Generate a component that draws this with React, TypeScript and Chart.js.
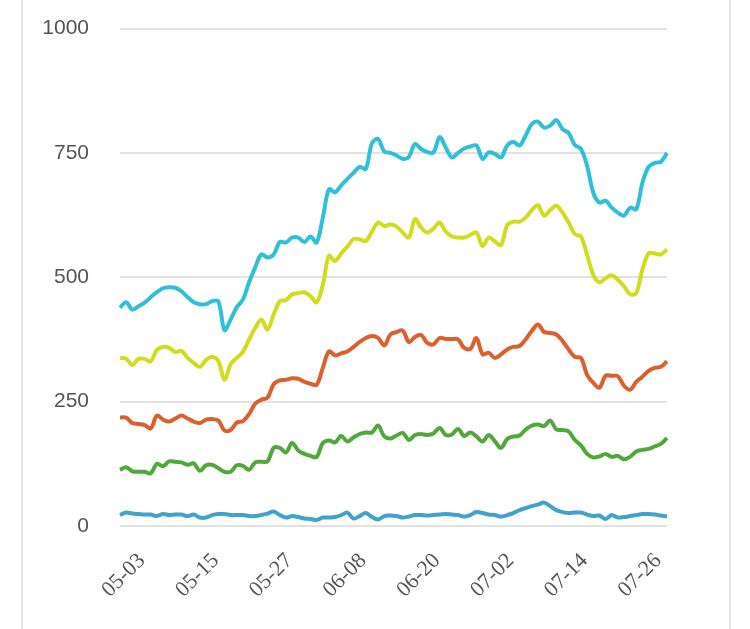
import React, { useEffect, useRef } from "react";
import { Chart, registerables } from "chart.js";

Chart.register(...registerables);

const startMonth = 5;
const startDay = 3;
const dayCount = 90;

const yTicks = [0, 250, 500, 750, 1000];

const seriesCyan = [
  439, 450, 435, 442, 449, 460, 470, 478, 480, 479,
  472, 460, 450, 446, 446, 452, 452, 394, 415, 440,
  455, 490, 520, 546, 540, 546, 571, 570, 580, 580,
  571, 582, 570, 620, 677, 671, 685, 698, 710, 722,
  718, 770, 778, 753, 750, 745, 738, 742, 768, 758,
  752, 751, 782, 761, 741, 750, 759, 763, 765, 738,
  751, 748, 741, 765, 772, 765, 785, 808, 813, 801,
  805, 816, 798, 790, 766, 758, 724, 670, 650, 654,
  640, 630, 624, 640, 637, 690, 722, 730, 732, 750,
];

const seriesYellow = [
  338, 336, 324, 336, 336, 331, 354, 360, 358, 350,
  352, 338, 328, 320, 334, 340, 332, 294, 325, 338,
  350, 375, 398, 415, 395, 425, 452, 454, 466, 468,
  470, 462, 450, 485, 543, 533, 548, 562, 577, 576,
  573, 592, 610, 603, 606, 602, 590, 580, 617, 600,
  590, 598, 610, 592, 582, 580, 580, 585, 590, 563,
  580, 572, 565, 605, 612, 612, 620, 635, 645, 624,
  635, 644, 630, 610, 587, 582, 545, 505, 490, 498,
  504, 495, 482, 466, 468, 516, 548, 548, 546, 556,
];

const seriesOrange = [
  218, 218, 207, 205, 203, 196, 222, 214, 210, 216,
  222, 216, 210, 207, 214, 215, 212, 192, 193, 208,
  211, 225, 246, 254, 258, 285, 293, 294, 297, 296,
  290, 286, 284, 318, 351, 343, 347, 351, 360, 370,
  378, 382, 378, 363, 385, 390, 393, 370, 380, 384,
  368, 365, 378, 376, 376, 375, 358, 356, 378, 345,
  348, 338, 345, 355, 360, 362, 375, 392, 405, 390,
  388, 385, 372, 355, 340, 338, 304, 288, 278, 302,
  302, 301, 282, 274, 290, 300, 312, 318, 320, 331,
];

const seriesGreen = [
  113, 118, 110, 109, 109, 106, 125, 120, 130, 129,
  128, 123, 126, 111, 122, 123, 116, 109, 109, 122,
  121, 113, 128, 129, 130, 157, 157, 148, 167, 152,
  145, 141, 139, 167, 172, 168, 181, 170, 178, 185,
  188, 188, 202, 180, 176, 182, 187, 173, 183, 185,
  183, 186, 197, 183, 184, 195, 181, 188, 180, 170,
  183, 170, 157, 175, 180, 182, 194, 202, 204, 201,
  212, 194, 193, 190, 173, 162, 145, 138, 140, 145,
  139, 141, 134, 139, 150, 153, 155, 160, 165, 177,
];

const seriesBlue = [
  22, 27, 25, 24, 23, 23, 20, 24, 22, 23,
  23, 20, 23, 17, 17, 22, 24, 24, 22, 22,
  22, 20, 20, 22, 25, 29, 22, 17, 20, 18,
  15, 14, 12, 17, 17, 18, 22, 27, 15, 20,
  26, 18, 13, 20, 21, 20, 17, 19, 22, 22,
  21, 22, 23, 24, 23, 22, 19, 22, 28, 26,
  23, 22, 19, 22, 26, 32, 36, 40, 43, 47,
  40, 32, 28, 26, 27, 27, 23, 20, 21, 14,
  22, 17, 18, 20, 22, 24, 24, 23, 21, 19,
];

function buildLabels(): string[] {
  const out: string[] = [];
  const d = new Date(2021, startMonth - 1, startDay);
  for (let i = 0; i < dayCount; i++) {
    const mm = String(d.getMonth() + 1).padStart(2, "0");
    const dd = String(d.getDate()).padStart(2, "0");
    out.push(`${mm}-${dd}`);
    d.setDate(d.getDate() + 1);
  }
  return out;
}

const categories = buildLabels();

export default function App() {
  const ref = useRef<HTMLCanvasElement | null>(null);

  useEffect(() => {
    if (!ref.current) return;
    const mk = (data: number[], color: string) => ({
      data,
      borderColor: color,
      backgroundColor: color,
      borderWidth: 4,
      pointRadius: 0,
      tension: 0.35,
      fill: false,
    });
    const chart = new Chart(ref.current, {
      type: "line",
      data: {
        labels: categories,
        datasets: [
          mk(seriesCyan, "#2fc0d7"),
          mk(seriesYellow, "#d3dc1c"),
          mk(seriesOrange, "#dc5f2d"),
          mk(seriesGreen, "#52a73c"),
          mk(seriesBlue, "#40a2cd"),
        ],
      },
      options: {
        animation: false,
        responsive: false,
        maintainAspectRatio: false,
        layout: { padding: { top: 13, right: 83, left: 0, bottom: 0 } },
        plugins: { legend: { display: false }, tooltip: { enabled: false } },
        scales: {
          x: {
            grid: { display: false, drawTicks: false },
            border: { display: false },
            afterFit: (s: any) => {
              s.height = 103;
            },
            ticks: {
              autoSkip: false,
              minRotation: 45,
              maxRotation: 45,
              padding: 22,
              labelOffset: 22,
              color: "#555",
              font: { family: "'Liberation Serif', 'DejaVu Serif', serif", size: 22 },
              callback: (_v: any, i: number) => (i % 12 === 0 ? categories[i] : null),
            },
          },
          y: {
            min: 0,
            max: 1000,
            afterFit: (s: any) => {
              s.width = 120;
            },
            afterBuildTicks: (s: any) => {
              s.ticks = yTicks.map((v) => ({ value: v }));
            },
            grid: { color: "#e2e2e2", lineWidth: 2, drawTicks: false },
            border: { display: false },
            ticks: {
              padding: 31,
              color: "#555",
              font: { family: "'Liberation Sans', Arial, sans-serif", size: 21 },
              callback: (v: any) => String(v),
            },
          },
        },
      },
    });
    return () => chart.destroy();
  }, []);

  return (
    <div style={{ position: "absolute", left: 0, top: 0, width: 750, height: 629, overflow: "hidden", background: "#fff" }}>
      <div
        style={{
          position: "absolute",
          left: 21,
          top: -10,
          width: 706,
          height: 660,
          borderLeft: "2px solid #e6e6e6",
          borderRight: "2px solid #e6e6e6",
        }}
      />
      <canvas ref={ref} width={750} height={644} style={{ position: "absolute", left: 0, top: -15 }} />
    </div>
  );
}
